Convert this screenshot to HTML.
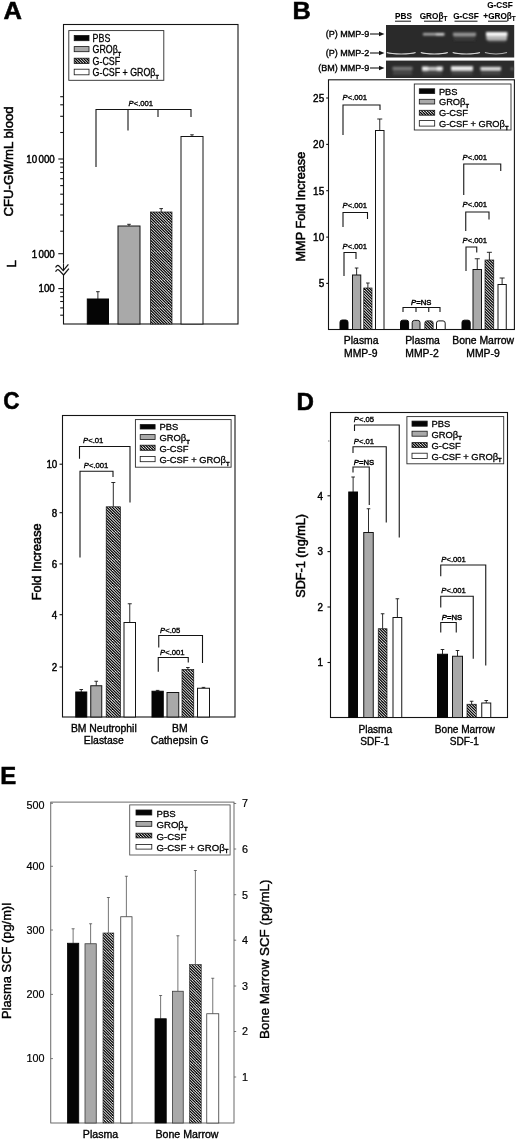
<!DOCTYPE html>
<html lang="en"><head><meta charset="utf-8"><title>Figure</title>
<style>
html,body{margin:0;padding:0;background:#fff;}
body{width:520px;height:1140px;overflow:hidden;}
svg{display:block;font-family:'Liberation Sans', sans-serif;}
</style></head><body>
<svg width="520" height="1140" viewBox="0 0 520 1140">
<defs>
<pattern id="hatch" patternUnits="userSpaceOnUse" width="28.0" height="28.0"><rect width="28.0" height="28.0" fill="#fff"/><g stroke="#000" stroke-width="1.2"><line x1="-28.0" y1="0" x2="0.0" y2="28.0"/><line x1="-25.2" y1="0" x2="2.8" y2="28.0"/><line x1="-22.4" y1="0" x2="5.6" y2="28.0"/><line x1="-19.6" y1="0" x2="8.4" y2="28.0"/><line x1="-16.8" y1="0" x2="11.2" y2="28.0"/><line x1="-14.0" y1="0" x2="14.0" y2="28.0"/><line x1="-11.2" y1="0" x2="16.8" y2="28.0"/><line x1="-8.4" y1="0" x2="19.6" y2="28.0"/><line x1="-5.6" y1="0" x2="22.4" y2="28.0"/><line x1="-2.8" y1="0" x2="25.2" y2="28.0"/><line x1="0.0" y1="0" x2="28.0" y2="28.0"/><line x1="2.8" y1="0" x2="30.8" y2="28.0"/><line x1="5.6" y1="0" x2="33.6" y2="28.0"/><line x1="8.4" y1="0" x2="36.4" y2="28.0"/><line x1="11.2" y1="0" x2="39.2" y2="28.0"/><line x1="14.0" y1="0" x2="42.0" y2="28.0"/><line x1="16.8" y1="0" x2="44.8" y2="28.0"/><line x1="19.6" y1="0" x2="47.6" y2="28.0"/><line x1="22.4" y1="0" x2="50.4" y2="28.0"/><line x1="25.2" y1="0" x2="53.2" y2="28.0"/><line x1="28.0" y1="0" x2="56.0" y2="28.0"/></g></pattern>
<pattern id="hatchs" patternUnits="userSpaceOnUse" width="28.0" height="28.0"><rect width="28.0" height="28.0" fill="#fff"/><g stroke="#000" stroke-width="1.3"><line x1="-28.0" y1="0" x2="0.0" y2="28.0"/><line x1="-25.2" y1="0" x2="2.8" y2="28.0"/><line x1="-22.4" y1="0" x2="5.6" y2="28.0"/><line x1="-19.6" y1="0" x2="8.4" y2="28.0"/><line x1="-16.8" y1="0" x2="11.2" y2="28.0"/><line x1="-14.0" y1="0" x2="14.0" y2="28.0"/><line x1="-11.2" y1="0" x2="16.8" y2="28.0"/><line x1="-8.4" y1="0" x2="19.6" y2="28.0"/><line x1="-5.6" y1="0" x2="22.4" y2="28.0"/><line x1="-2.8" y1="0" x2="25.2" y2="28.0"/><line x1="0.0" y1="0" x2="28.0" y2="28.0"/><line x1="2.8" y1="0" x2="30.8" y2="28.0"/><line x1="5.6" y1="0" x2="33.6" y2="28.0"/><line x1="8.4" y1="0" x2="36.4" y2="28.0"/><line x1="11.2" y1="0" x2="39.2" y2="28.0"/><line x1="14.0" y1="0" x2="42.0" y2="28.0"/><line x1="16.8" y1="0" x2="44.8" y2="28.0"/><line x1="19.6" y1="0" x2="47.6" y2="28.0"/><line x1="22.4" y1="0" x2="50.4" y2="28.0"/><line x1="25.2" y1="0" x2="53.2" y2="28.0"/><line x1="28.0" y1="0" x2="56.0" y2="28.0"/></g></pattern>
<filter id="blur" x="-5%" y="-50%" width="110%" height="200%"><feGaussianBlur stdDeviation="0.8"/></filter>
<filter id="blur2" x="-5%" y="-50%" width="110%" height="200%"><feGaussianBlur stdDeviation="0.45"/></filter>
</defs>
<rect x="0" y="0" width="520" height="1140" fill="#fff"/>
<text x="0" y="0" font-size="23" text-anchor="start" font-weight="bold" fill="#000" stroke="#000" stroke-width="0.5" transform="translate(3.5 19.2) scale(1.11 1)">A</text>
<text x="0" y="0" font-size="23" text-anchor="start" font-weight="bold" fill="#000" stroke="#000" stroke-width="0.5" transform="translate(292.4 19.2) scale(1.1 1)">B</text>
<text x="0" y="0" font-size="23" text-anchor="start" font-weight="bold" fill="#000" stroke="#000" stroke-width="0.5" transform="translate(3.2 409.2) scale(0.98 1)">C</text>
<text x="0" y="0" font-size="23" text-anchor="start" font-weight="bold" fill="#000" stroke="#000" stroke-width="0.5" transform="translate(296.6 409.6) scale(1.05 1)">D</text>
<text x="0" y="0" font-size="23" text-anchor="start" font-weight="bold" fill="#000" stroke="#000" stroke-width="0.5" transform="translate(0.2 784.2) scale(1.04 1)">E</text>
<rect x="63.5" y="24.5" width="174.5" height="299.5" fill="none" stroke="#141414" stroke-width="1.1"/>
<line x1="58.3" y1="159" x2="63.5" y2="159" stroke="#141414" stroke-width="1.1"/>
<line x1="58.3" y1="253.7" x2="63.5" y2="253.7" stroke="#141414" stroke-width="1.1"/>
<line x1="58.3" y1="288.6" x2="63.5" y2="288.6" stroke="#141414" stroke-width="1.1"/>
<line x1="60.2" y1="96.7" x2="63.5" y2="96.7" stroke="#141414" stroke-width="1.1"/>
<line x1="60.2" y1="104.8" x2="63.5" y2="104.8" stroke="#141414" stroke-width="1.1"/>
<line x1="60.2" y1="116.3" x2="63.5" y2="116.3" stroke="#141414" stroke-width="1.1"/>
<line x1="60.2" y1="132.5" x2="63.5" y2="132.5" stroke="#141414" stroke-width="1.1"/>
<line x1="60.2" y1="162.8" x2="63.5" y2="162.8" stroke="#141414" stroke-width="1.1"/>
<line x1="60.2" y1="167.1" x2="63.5" y2="167.1" stroke="#141414" stroke-width="1.1"/>
<line x1="60.2" y1="172.5" x2="63.5" y2="172.5" stroke="#141414" stroke-width="1.1"/>
<line x1="60.2" y1="178.7" x2="63.5" y2="178.7" stroke="#141414" stroke-width="1.1"/>
<line x1="60.2" y1="185.6" x2="63.5" y2="185.6" stroke="#141414" stroke-width="1.1"/>
<line x1="60.2" y1="194.2" x2="63.5" y2="194.2" stroke="#141414" stroke-width="1.1"/>
<line x1="60.2" y1="204.2" x2="63.5" y2="204.2" stroke="#141414" stroke-width="1.1"/>
<line x1="60.2" y1="215" x2="63.5" y2="215" stroke="#141414" stroke-width="1.1"/>
<line x1="60.2" y1="231.2" x2="63.5" y2="231.2" stroke="#141414" stroke-width="1.1"/>
<line x1="60.2" y1="292.3" x2="63.5" y2="292.3" stroke="#141414" stroke-width="1.1"/>
<line x1="60.2" y1="296.7" x2="63.5" y2="296.7" stroke="#141414" stroke-width="1.1"/>
<line x1="60.2" y1="301.5" x2="63.5" y2="301.5" stroke="#141414" stroke-width="1.1"/>
<line x1="60.2" y1="307.9" x2="63.5" y2="307.9" stroke="#141414" stroke-width="1.1"/>
<line x1="60.2" y1="315.2" x2="63.5" y2="315.2" stroke="#141414" stroke-width="1.1"/>
<text x="0" y="0" font-size="10.6" text-anchor="end" font-weight="normal" fill="#000" stroke="#000" stroke-width="0.45" transform="translate(54.8 162.8) scale(0.92 1)">10<tspan dx="1.6">000</tspan></text>
<text x="0" y="0" font-size="10.6" text-anchor="end" font-weight="normal" fill="#000" stroke="#000" stroke-width="0.45" transform="translate(54.8 257.5) scale(0.92 1)">1<tspan dx="1.6">000</tspan></text>
<text x="0" y="0" font-size="10.6" text-anchor="end" font-weight="normal" fill="#000" stroke="#000" stroke-width="0.45" transform="translate(54.8 292.4) scale(0.92 1)">100</text>
<rect x="61" y="263.5" width="5" height="11" fill="#fff"/>
<path d="M55.6,267.6 Q57.2,264.2 59.2,266.2 L63.2,270.6 L68.4,264.4" fill="none" stroke="#141414" stroke-width="1.25"/>
<path d="M55.6,271.8 Q57.2,268.4 59.2,270.4 L63.6,275 L68.9,268.6" fill="none" stroke="#141414" stroke-width="1.25"/>
<line x1="63.5" y1="263.5" x2="63.5" y2="270.4" stroke="#141414" stroke-width="1.1"/>
<text x="12.8" y="216.5" font-size="13.2" text-anchor="start" font-weight="normal" fill="#000" stroke="#000" stroke-width="0.5" transform="rotate(-90 12.8 216.5)">CFU-GM/mL blood</text>
<text x="15.6" y="267.6" font-size="13.2" text-anchor="start" font-weight="normal" fill="#000" stroke="#000" stroke-width="0.5" transform="rotate(-90 15.6 267.6)">L</text>
<rect x="68.8" y="30.6" width="95.0" height="49.7" fill="#fff" stroke="#2a2a2a" stroke-width="0.9"/>
<rect x="74.2" y="35.5" width="14.8" height="5.2" fill="#050505" stroke="#141414" stroke-width="0.8"/>
<text x="0" y="0" font-size="10" text-anchor="start" font-weight="normal" fill="#000" stroke="#000" stroke-width="0.3" transform="translate(92.6 41.78) scale(0.885 1)">PBS</text>
<rect x="74.2" y="46.6" width="14.8" height="5.1" fill="#a9a9a9" stroke="#141414" stroke-width="0.8"/>
<text x="0" y="0" font-size="10" text-anchor="start" font-weight="normal" fill="#000" stroke="#000" stroke-width="0.3" transform="translate(92.6 53.38) scale(0.885 1)">GRO&#946;<tspan font-size="6.2" dy="2.8" font-weight="bold">T</tspan></text>
<rect x="74.2" y="58.2" width="14.8" height="5.2" fill="url(#hatchs)" stroke="#141414" stroke-width="0.8"/>
<text x="0" y="0" font-size="10" text-anchor="start" font-weight="normal" fill="#000" stroke="#000" stroke-width="0.3" transform="translate(92.6 65.18) scale(0.885 1)">G-CSF</text>
<rect x="74.2" y="69.2" width="14.8" height="5.6" fill="#ffffff" stroke="#141414" stroke-width="0.8"/>
<text x="0" y="0" font-size="10" text-anchor="start" font-weight="normal" fill="#000" stroke="#000" stroke-width="0.3" transform="translate(92.6 76.38) scale(0.885 1)">G-CSF + GRO&#946;<tspan font-size="6.2" dy="2.8" font-weight="bold">T</tspan></text>
<line x1="97.9" y1="299" x2="97.9" y2="291.7" stroke="#141414" stroke-width="0.9"/>
<line x1="96.10000000000001" y1="291.7" x2="99.7" y2="291.7" stroke="#141414" stroke-width="0.9"/>
<rect x="87.3" y="299" width="21.2" height="25" fill="#050505" stroke="#050505" stroke-width="1.0"/>
<line x1="129.0" y1="226" x2="129.0" y2="224.3" stroke="#141414" stroke-width="0.9"/>
<line x1="127.2" y1="224.3" x2="130.8" y2="224.3" stroke="#141414" stroke-width="0.9"/>
<rect x="118" y="226" width="22" height="98" fill="#a9a9a9" stroke="#141414" stroke-width="1.0"/>
<line x1="161.2" y1="212" x2="161.2" y2="208.6" stroke="#141414" stroke-width="0.9"/>
<line x1="159.39999999999998" y1="208.6" x2="163.0" y2="208.6" stroke="#141414" stroke-width="0.9"/>
<rect x="150.4" y="212" width="21.6" height="112" fill="url(#hatch)" stroke="#141414" stroke-width="0.7"/>
<line x1="192.0" y1="136.5" x2="192.0" y2="134.8" stroke="#141414" stroke-width="0.9"/>
<line x1="190.2" y1="134.8" x2="193.8" y2="134.8" stroke="#141414" stroke-width="0.9"/>
<rect x="181" y="136.5" width="22" height="187.5" fill="#ffffff" stroke="#141414" stroke-width="1.0"/>
<polyline points="96,167 96,109.5 191,109.5 191,117" fill="none" stroke="#141414" stroke-width="1.1"/>
<line x1="128" y1="109.5" x2="128" y2="130.5" stroke="#141414" stroke-width="1.1"/>
<line x1="158" y1="109.5" x2="158" y2="117" stroke="#141414" stroke-width="1.1"/>
<text x="128.5" y="106" font-size="7.7" text-anchor="start" font-weight="normal" fill="#000" stroke="#000" stroke-width="0.35"><tspan font-style="italic">P</tspan>&lt;.001</text>
<text x="369.3" y="37.2" font-size="9" text-anchor="end" font-weight="normal" fill="#000" stroke="#000" stroke-width="0.35">(P) MMP-9</text>
<text x="369.3" y="56.2" font-size="9" text-anchor="end" font-weight="normal" fill="#000" stroke="#000" stroke-width="0.35">(P) MMP-2</text>
<text x="369.3" y="71.2" font-size="9" text-anchor="end" font-weight="normal" fill="#000" stroke="#000" stroke-width="0.35">(BM) MMP-9</text>
<line x1="370" y1="34" x2="380" y2="34" stroke="#141414" stroke-width="1.1"/>
<path d="M384.5,34 L379,31.7 L379,36.3 Z" fill="#141414"/>
<line x1="370" y1="53" x2="380" y2="53" stroke="#141414" stroke-width="1.1"/>
<path d="M384.5,53 L379,50.7 L379,55.3 Z" fill="#141414"/>
<line x1="370" y1="68" x2="380" y2="68" stroke="#141414" stroke-width="1.1"/>
<path d="M384.5,68 L379,65.7 L379,70.3 Z" fill="#141414"/>
<text x="403.5" y="18.8" font-size="8.2" text-anchor="middle" font-weight="bold" fill="#000" stroke="#000" stroke-width="0.1">PBS</text>
<text x="433.5" y="18.8" font-size="8.2" text-anchor="middle" font-weight="bold" fill="#000" stroke="#000" stroke-width="0.1">GRO&#946;<tspan font-size="6.3" dy="2" font-weight="bold">T</tspan></text>
<text x="466" y="18.8" font-size="8.2" text-anchor="middle" font-weight="bold" fill="#000" stroke="#000" stroke-width="0.1">G-CSF</text>
<text x="500" y="7.8" font-size="8.2" text-anchor="middle" font-weight="bold" fill="#000" stroke="#000" stroke-width="0.1">G-CSF</text>
<text x="499.5" y="18.8" font-size="8.2" text-anchor="middle" font-weight="bold" fill="#000" stroke="#000" stroke-width="0.1">+GRO&#946;<tspan font-size="6.3" dy="2" font-weight="bold">T</tspan></text>
<line x1="395" y1="21.2" x2="411" y2="21.2" stroke="#141414" stroke-width="1.0"/>
<line x1="424" y1="21.2" x2="442.5" y2="21.2" stroke="#141414" stroke-width="1.0"/>
<line x1="454.5" y1="21.2" x2="477.5" y2="21.2" stroke="#141414" stroke-width="1.0"/>
<line x1="488" y1="21.2" x2="507.5" y2="21.2" stroke="#141414" stroke-width="1.0"/>
<rect x="386" y="25" width="128.2" height="32.5" fill="#2a2a2a"/>
<rect x="386" y="60.6" width="128.2" height="17.4" fill="#2c2c2c"/>
<g filter="url(#blur)">
<rect x="423" y="33.1" width="21.5" height="2.3" fill="#b4b4b4"/>
<rect x="436" y="33.1" width="8" height="2.3" fill="#dcdcdc"/>
<rect x="453" y="32.7" width="23" height="3.2" fill="#9a9a9a"/>
<rect x="454" y="36" width="21" height="4.5" fill="#3c3c3c"/>
<rect x="486" y="32" width="21.4" height="4.4" fill="#f6f6f6"/>
<rect x="486.4" y="36.2" width="20.6" height="3.8" fill="#b8b8b8"/>
<rect x="488" y="40" width="18" height="2" fill="#555"/>
<rect x="393" y="70" width="19" height="5" fill="#444"/>
<rect x="422.5" y="70" width="19.5" height="5" fill="#444"/>
<rect x="451.5" y="70" width="21.0" height="5" fill="#444"/>
<rect x="481" y="70" width="19.5" height="5" fill="#444"/>
<rect x="392.5" y="66.8" width="20" height="3" fill="#7c7c7c"/>
<rect x="422" y="66.8" width="20.6" height="3.4" fill="#c8c8c8"/>
<rect x="422" y="66.6" width="6" height="3.8" fill="#f4f4f4"/><rect x="437" y="66.6" width="5.6" height="3.8" fill="#f4f4f4"/>
<rect x="451" y="66.2" width="22" height="4.2" fill="#f0f0f0"/>
<rect x="480.4" y="66.9" width="20.6" height="3.3" fill="#e2e2e2"/>
<rect x="510.8" y="67.5" width="2.4" height="2.6" fill="#6a6a6a"/>
</g>
<g filter="url(#blur2)">
<path d="M386.8,52.5 Q390.8,53.9 401.20000000000005,54 Q411.6,53.9 415.6,52.5" fill="none" stroke="#d6d6d6" stroke-width="1.15"/>
<path d="M420.8,52.5 Q424.8,53.9 434.3,54 Q443.8,53.9 447.8,52.5" fill="none" stroke="#dedede" stroke-width="1.15"/>
<path d="M452.7,52.5 Q456.7,53.9 466.35,54 Q476,53.9 480,52.5" fill="none" stroke="#d6d6d6" stroke-width="1.15"/>
<path d="M484.9,52.5 Q488.9,53.9 495.95,54 Q503,53.9 507,52.5" fill="none" stroke="#b0b0b0" stroke-width="1.15"/>
</g>
<rect x="328.5" y="79.8" width="185.9" height="249.7" fill="none" stroke="#141414" stroke-width="1.1"/>
<line x1="326.2" y1="98" x2="328.5" y2="98" stroke="#141414" stroke-width="1.1"/>
<text x="0" y="0" font-size="10.7" text-anchor="end" font-weight="normal" fill="#000" stroke="#000" stroke-width="0.45" transform="translate(324.2 101.8) scale(0.93 1)">25</text>
<line x1="326.2" y1="144.4" x2="328.5" y2="144.4" stroke="#141414" stroke-width="1.1"/>
<text x="0" y="0" font-size="10.7" text-anchor="end" font-weight="normal" fill="#000" stroke="#000" stroke-width="0.45" transform="translate(324.2 148.20000000000002) scale(0.93 1)">20</text>
<line x1="326.2" y1="190.7" x2="328.5" y2="190.7" stroke="#141414" stroke-width="1.1"/>
<text x="0" y="0" font-size="10.7" text-anchor="end" font-weight="normal" fill="#000" stroke="#000" stroke-width="0.45" transform="translate(324.2 194.5) scale(0.93 1)">15</text>
<line x1="326.2" y1="237.1" x2="328.5" y2="237.1" stroke="#141414" stroke-width="1.1"/>
<text x="0" y="0" font-size="10.7" text-anchor="end" font-weight="normal" fill="#000" stroke="#000" stroke-width="0.45" transform="translate(324.2 240.9) scale(0.93 1)">10</text>
<line x1="326.2" y1="283.4" x2="328.5" y2="283.4" stroke="#141414" stroke-width="1.1"/>
<text x="0" y="0" font-size="10.7" text-anchor="end" font-weight="normal" fill="#000" stroke="#000" stroke-width="0.45" transform="translate(324.2 287.2) scale(0.93 1)">5</text>
<text x="304.9" y="261.5" font-size="12.7" text-anchor="start" font-weight="normal" fill="#000" stroke="#000" stroke-width="0.5" transform="rotate(-90 304.9 261.5)">MMP Fold Increase</text>
<rect x="414.3" y="84" width="96.7" height="46" fill="#fff" stroke="#2a2a2a" stroke-width="0.9"/>
<rect x="419.3" y="88.8" width="15.4" height="4.7" fill="#050505" stroke="#141414" stroke-width="0.8"/>
<text x="0" y="0" font-size="9.3" text-anchor="start" font-weight="normal" fill="#000" stroke="#000" stroke-width="0.3" transform="translate(438.9 94.53) scale(1.0 1)">PBS</text>
<rect x="419.3" y="99.3" width="15.4" height="4.7" fill="#a9a9a9" stroke="#141414" stroke-width="0.8"/>
<text x="0" y="0" font-size="9.3" text-anchor="start" font-weight="normal" fill="#000" stroke="#000" stroke-width="0.3" transform="translate(438.9 105.13) scale(1.0 1)">GRO&#946;<tspan font-size="5.77" dy="2.6" font-weight="bold">T</tspan></text>
<rect x="419.3" y="110.3" width="15.4" height="4.9" fill="url(#hatchs)" stroke="#141414" stroke-width="0.8"/>
<text x="0" y="0" font-size="9.3" text-anchor="start" font-weight="normal" fill="#000" stroke="#000" stroke-width="0.3" transform="translate(438.9 116.13) scale(1.0 1)">G-CSF</text>
<rect x="419.3" y="120.6" width="15.4" height="5.5" fill="#ffffff" stroke="#141414" stroke-width="0.8"/>
<text x="0" y="0" font-size="9.3" text-anchor="start" font-weight="normal" fill="#000" stroke="#000" stroke-width="0.3" transform="translate(438.9 127.13) scale(1.0 1)">G-CSF + GRO&#946;<tspan font-size="5.77" dy="2.6" font-weight="bold">T</tspan></text>
<path d="M340,329.5 L340,322.2 Q340,320 342.2,320 L345.8,320 Q348,320 348,322.2 L348,329.5 Z" fill="#050505" stroke="#050505" stroke-width="1.0"/>
<line x1="356.62" y1="275" x2="356.62" y2="268" stroke="#141414" stroke-width="0.9"/>
<line x1="354.82" y1="268" x2="358.42" y2="268" stroke="#141414" stroke-width="0.9"/>
<rect x="352.5" y="275" width="8.25" height="54.5" fill="#a9a9a9" stroke="#141414" stroke-width="1.0"/>
<line x1="367.88" y1="288" x2="367.88" y2="283" stroke="#141414" stroke-width="0.9"/>
<line x1="366.08" y1="283" x2="369.68" y2="283" stroke="#141414" stroke-width="0.9"/>
<rect x="363.75" y="288" width="8.25" height="41.5" fill="url(#hatch)" stroke="#141414" stroke-width="0.7"/>
<line x1="379.75" y1="130.5" x2="379.75" y2="119" stroke="#141414" stroke-width="0.9"/>
<line x1="377.25" y1="119" x2="382.25" y2="119" stroke="#141414" stroke-width="0.9"/>
<rect x="375.5" y="130.5" width="8.5" height="199.0" fill="#ffffff" stroke="#141414" stroke-width="1.0"/>
<path d="M400.5,329.5 L400.5,322.4 Q400.5,320.2 402.7,320.2 L406.40000000000003,320.2 Q408.6,320.2 408.6,322.4 L408.6,329.5 Z" fill="#050505" stroke="#050505" stroke-width="1.0"/>
<path d="M412.2,329.5 L412.2,322.59999999999997 Q412.2,320.4 414.4,320.4 L417.8,320.4 Q420,320.4 420,322.59999999999997 L420,329.5 Z" fill="#a9a9a9" stroke="#141414" stroke-width="1.0"/>
<path d="M424.8,329.5 L424.8,323.0 Q424.8,320.8 427.0,320.8 L431.0,320.8 Q433.2,320.8 433.2,323.0 L433.2,329.5 Z" fill="url(#hatch)" stroke="#141414" stroke-width="0.7"/>
<path d="M436.5,329.5 L436.5,323.09999999999997 Q436.5,320.9 438.7,320.9 L443.0,320.9 Q445.2,320.9 445.2,323.09999999999997 L445.2,329.5 Z" fill="#ffffff" stroke="#141414" stroke-width="1.0"/>
<path d="M462,329.5 L462,322.4 Q462,320.2 464.2,320.2 L468.0,320.2 Q470.2,320.2 470.2,322.4 L470.2,329.5 Z" fill="#050505" stroke="#050505" stroke-width="1.0"/>
<line x1="477.25" y1="269.5" x2="477.25" y2="258.75" stroke="#141414" stroke-width="0.9"/>
<line x1="474.75" y1="258.75" x2="479.75" y2="258.75" stroke="#141414" stroke-width="0.9"/>
<rect x="473" y="269.5" width="8.5" height="60.0" fill="#a9a9a9" stroke="#141414" stroke-width="1.0"/>
<line x1="489.38" y1="260" x2="489.38" y2="252.3" stroke="#141414" stroke-width="0.9"/>
<line x1="486.88" y1="252.3" x2="491.88" y2="252.3" stroke="#141414" stroke-width="0.9"/>
<rect x="485" y="260" width="8.75" height="69.5" fill="url(#hatch)" stroke="#141414" stroke-width="0.7"/>
<line x1="502.12" y1="284.5" x2="502.12" y2="278" stroke="#141414" stroke-width="0.9"/>
<line x1="499.62" y1="278" x2="504.62" y2="278" stroke="#141414" stroke-width="0.9"/>
<rect x="498" y="284.5" width="8.25" height="45.0" fill="#ffffff" stroke="#141414" stroke-width="1.0"/>
<polyline points="343,135 343,105 380,105 380,110" fill="none" stroke="#141414" stroke-width="1.1"/>
<text x="342.5" y="100" font-size="7.7" text-anchor="start" font-weight="normal" fill="#000" stroke="#000" stroke-width="0.35"><tspan font-style="italic">P</tspan>&lt;.001</text>
<polyline points="343,227 343,212.5 367.5,212.5 367.5,219" fill="none" stroke="#141414" stroke-width="1.1"/>
<text x="342.5" y="208" font-size="7.7" text-anchor="start" font-weight="normal" fill="#000" stroke="#000" stroke-width="0.35"><tspan font-style="italic">P</tspan>&lt;.001</text>
<polyline points="344,276 344,252.5 356,252.5 356,259" fill="none" stroke="#141414" stroke-width="1.1"/>
<text x="342.5" y="249" font-size="7.7" text-anchor="start" font-weight="normal" fill="#000" stroke="#000" stroke-width="0.35"><tspan font-style="italic">P</tspan>&lt;.001</text>
<polyline points="403,312 403,307.5 440,307.5 440,312" fill="none" stroke="#141414" stroke-width="1.1"/>
<line x1="416" y1="307.5" x2="416" y2="312" stroke="#141414" stroke-width="1.1"/>
<line x1="428.75" y1="307.5" x2="428.75" y2="312" stroke="#141414" stroke-width="1.1"/>
<text x="411" y="304.5" font-size="7.7" text-anchor="start" font-weight="normal" fill="#000" stroke="#000" stroke-width="0.45"><tspan font-style="italic">P</tspan>=NS</text>
<polyline points="463.75,195 463.75,164 500.75,164 500.75,171" fill="none" stroke="#141414" stroke-width="1.1"/>
<text x="462.5" y="160" font-size="7.7" text-anchor="start" font-weight="normal" fill="#000" stroke="#000" stroke-width="0.35"><tspan font-style="italic">P</tspan>&lt;.001</text>
<polyline points="465.75,231 465.75,212 489,212 489,219.5" fill="none" stroke="#141414" stroke-width="1.1"/>
<text x="462.5" y="207" font-size="7.7" text-anchor="start" font-weight="normal" fill="#000" stroke="#000" stroke-width="0.35"><tspan font-style="italic">P</tspan>&lt;.001</text>
<polyline points="466,271 466,247 476.75,247 476.75,252.5" fill="none" stroke="#141414" stroke-width="1.1"/>
<text x="462.5" y="243" font-size="7.7" text-anchor="start" font-weight="normal" fill="#000" stroke="#000" stroke-width="0.35"><tspan font-style="italic">P</tspan>&lt;.001</text>
<text x="361.2" y="343.9" font-size="10.4" text-anchor="middle" font-weight="normal" fill="#000" stroke="#000" stroke-width="0.35">Plasma</text>
<text x="360.8" y="356.6" font-size="10.4" text-anchor="middle" font-weight="normal" fill="#000" stroke="#000" stroke-width="0.35">MMP-9</text>
<text x="422.5" y="343.9" font-size="10.4" text-anchor="middle" font-weight="normal" fill="#000" stroke="#000" stroke-width="0.35">Plasma</text>
<text x="422" y="356.6" font-size="10.4" text-anchor="middle" font-weight="normal" fill="#000" stroke="#000" stroke-width="0.35">MMP-2</text>
<text x="483.2" y="343.9" font-size="10.4" text-anchor="middle" font-weight="normal" fill="#000" stroke="#000" stroke-width="0.35">Bone Marrow</text>
<text x="483" y="356.6" font-size="10.4" text-anchor="middle" font-weight="normal" fill="#000" stroke="#000" stroke-width="0.35">MMP-9</text>
<rect x="62.5" y="415.5" width="172.5" height="301.5" fill="none" stroke="#141414" stroke-width="1.1"/>
<line x1="59.5" y1="464.2" x2="62.5" y2="464.2" stroke="#141414" stroke-width="1.1"/>
<text x="0" y="0" font-size="10.9" text-anchor="end" font-weight="normal" fill="#000" stroke="#000" stroke-width="0.45" transform="translate(57.3 468.09999999999997) scale(0.9 1)">10</text>
<line x1="59.5" y1="512.7" x2="62.5" y2="512.7" stroke="#141414" stroke-width="1.1"/>
<text x="0" y="0" font-size="10.9" text-anchor="end" font-weight="normal" fill="#000" stroke="#000" stroke-width="0.45" transform="translate(57.3 516.6) scale(0.9 1)">8</text>
<line x1="59.5" y1="563.9" x2="62.5" y2="563.9" stroke="#141414" stroke-width="1.1"/>
<text x="0" y="0" font-size="10.9" text-anchor="end" font-weight="normal" fill="#000" stroke="#000" stroke-width="0.45" transform="translate(57.3 567.8) scale(0.9 1)">6</text>
<line x1="59.5" y1="614.7" x2="62.5" y2="614.7" stroke="#141414" stroke-width="1.1"/>
<text x="0" y="0" font-size="10.9" text-anchor="end" font-weight="normal" fill="#000" stroke="#000" stroke-width="0.45" transform="translate(57.3 618.6) scale(0.9 1)">4</text>
<line x1="59.5" y1="667" x2="62.5" y2="667" stroke="#141414" stroke-width="1.1"/>
<text x="0" y="0" font-size="10.9" text-anchor="end" font-weight="normal" fill="#000" stroke="#000" stroke-width="0.45" transform="translate(57.3 670.9) scale(0.9 1)">2</text>
<text x="40.6" y="600.3" font-size="12.7" text-anchor="start" font-weight="normal" fill="#000" stroke="#000" stroke-width="0.5" transform="rotate(-90 40.6 600.3)">Fold Increase</text>
<rect x="135.4" y="419.6" width="95.7" height="47.6" fill="#fff" stroke="#2a2a2a" stroke-width="0.9"/>
<rect x="140.2" y="424.6" width="14.9" height="4.4" fill="#050505" stroke="#141414" stroke-width="0.8"/>
<text x="0" y="0" font-size="9.4" text-anchor="start" font-weight="normal" fill="#000" stroke="#000" stroke-width="0.3" transform="translate(159.4 430.17) scale(1.0 1)">PBS</text>
<rect x="140.2" y="434.6" width="14.9" height="4.9" fill="#a9a9a9" stroke="#141414" stroke-width="0.8"/>
<text x="0" y="0" font-size="9.4" text-anchor="start" font-weight="normal" fill="#000" stroke="#000" stroke-width="0.3" transform="translate(159.4 441.17) scale(1.0 1)">GRO&#946;<tspan font-size="5.83" dy="2.63" font-weight="bold">T</tspan></text>
<rect x="140.2" y="445.2" width="14.9" height="5.1" fill="url(#hatchs)" stroke="#141414" stroke-width="0.8"/>
<text x="0" y="0" font-size="9.4" text-anchor="start" font-weight="normal" fill="#000" stroke="#000" stroke-width="0.3" transform="translate(159.4 451.77) scale(1.0 1)">G-CSF</text>
<rect x="140.2" y="456.4" width="14.9" height="5.3" fill="#ffffff" stroke="#141414" stroke-width="0.8"/>
<text x="0" y="0" font-size="9.4" text-anchor="start" font-weight="normal" fill="#000" stroke="#000" stroke-width="0.3" transform="translate(159.4 462.97) scale(1.0 1)">G-CSF + GRO&#946;<tspan font-size="5.83" dy="2.63" font-weight="bold">T</tspan></text>
<line x1="81.25" y1="692" x2="81.25" y2="689.5" stroke="#141414" stroke-width="0.9"/>
<line x1="79.45" y1="689.5" x2="83.05" y2="689.5" stroke="#141414" stroke-width="0.9"/>
<rect x="75.75" y="692" width="11.0" height="25" fill="#050505" stroke="#050505" stroke-width="1.0"/>
<line x1="96.25" y1="685.75" x2="96.25" y2="681.25" stroke="#141414" stroke-width="0.9"/>
<line x1="94.45" y1="681.25" x2="98.05" y2="681.25" stroke="#141414" stroke-width="0.9"/>
<rect x="90.75" y="685.75" width="11.0" height="31.25" fill="#a9a9a9" stroke="#141414" stroke-width="1.0"/>
<line x1="113.3" y1="506.8" x2="113.3" y2="482.5" stroke="#141414" stroke-width="0.9"/>
<line x1="111.3" y1="482.5" x2="115.3" y2="482.5" stroke="#141414" stroke-width="0.9"/>
<rect x="106.2" y="506.8" width="14.2" height="210.2" fill="url(#hatch)" stroke="#141414" stroke-width="0.7"/>
<line x1="129.75" y1="622.5" x2="129.75" y2="603.75" stroke="#141414" stroke-width="0.9"/>
<line x1="127.75" y1="603.75" x2="131.75" y2="603.75" stroke="#141414" stroke-width="0.9"/>
<rect x="124" y="622.5" width="11.5" height="94.5" fill="#ffffff" stroke="#141414" stroke-width="1.0"/>
<line x1="157.62" y1="691.25" x2="157.62" y2="690.4" stroke="#141414" stroke-width="0.9"/>
<line x1="155.82" y1="690.4" x2="159.42000000000002" y2="690.4" stroke="#141414" stroke-width="0.9"/>
<rect x="152" y="691.25" width="11.25" height="25.75" fill="#050505" stroke="#050505" stroke-width="1.0"/>
<rect x="167" y="692.5" width="11.75" height="24.5" fill="#a9a9a9" stroke="#141414" stroke-width="1.0"/>
<line x1="187.88" y1="669.5" x2="187.88" y2="667.5" stroke="#141414" stroke-width="0.9"/>
<line x1="186.07999999999998" y1="667.5" x2="189.68" y2="667.5" stroke="#141414" stroke-width="0.9"/>
<rect x="182" y="669.5" width="11.75" height="47.5" fill="url(#hatch)" stroke="#141414" stroke-width="0.7"/>
<line x1="203.5" y1="688.25" x2="203.5" y2="687.4" stroke="#141414" stroke-width="0.9"/>
<line x1="201.7" y1="687.4" x2="205.3" y2="687.4" stroke="#141414" stroke-width="0.9"/>
<rect x="197.5" y="688.25" width="12.0" height="28.75" fill="#ffffff" stroke="#141414" stroke-width="1.0"/>
<polyline points="79.5,458.75 79.5,446.5 130,446.5 130,502.5" fill="none" stroke="#141414" stroke-width="1.1"/>
<text x="83" y="443.3" font-size="7.7" text-anchor="start" font-weight="normal" fill="#000" stroke="#000" stroke-width="0.35"><tspan font-style="italic">P</tspan>&lt;.01</text>
<polyline points="80,557.5 80,471.25 113,471.25 113,477" fill="none" stroke="#141414" stroke-width="1.1"/>
<text x="83.75" y="467.5" font-size="7.7" text-anchor="start" font-weight="normal" fill="#000" stroke="#000" stroke-width="0.35"><tspan font-style="italic">P</tspan>&lt;.001</text>
<polyline points="158.75,647.5 158.75,635.5 202.5,635.5 202.5,663" fill="none" stroke="#141414" stroke-width="1.1"/>
<text x="160" y="632.5" font-size="7.7" text-anchor="start" font-weight="normal" fill="#000" stroke="#000" stroke-width="0.35"><tspan font-style="italic">P</tspan>&lt;.05</text>
<polyline points="158.25,671.75 158.25,657.5 188.25,657.5 188.25,662.5" fill="none" stroke="#141414" stroke-width="1.1"/>
<text x="160" y="654.5" font-size="7.7" text-anchor="start" font-weight="normal" fill="#000" stroke="#000" stroke-width="0.35"><tspan font-style="italic">P</tspan>&lt;.001</text>
<text x="103.8" y="731.8" font-size="10.4" text-anchor="middle" font-weight="normal" fill="#000" stroke="#000" stroke-width="0.35">BM Neutrophil</text>
<text x="103.8" y="744.3" font-size="10.4" text-anchor="middle" font-weight="normal" fill="#000" stroke="#000" stroke-width="0.35">Elastase</text>
<text x="179.8" y="731.8" font-size="10.4" text-anchor="middle" font-weight="normal" fill="#000" stroke="#000" stroke-width="0.35">BM</text>
<text x="179.6" y="744.3" font-size="10.4" text-anchor="middle" font-weight="normal" fill="#000" stroke="#000" stroke-width="0.35">Cathepsin G</text>
<rect x="330.5" y="412.5" width="177.0" height="305.0" fill="none" stroke="#141414" stroke-width="1.1"/>
<line x1="327.5" y1="495.8" x2="330.5" y2="495.8" stroke="#141414" stroke-width="1.1"/>
<text x="0" y="0" font-size="10.7" text-anchor="end" font-weight="normal" fill="#000" stroke="#000" stroke-width="0.45" transform="translate(323 499.6) scale(0.92 1)">4</text>
<line x1="327.5" y1="551.6" x2="330.5" y2="551.6" stroke="#141414" stroke-width="1.1"/>
<text x="0" y="0" font-size="10.7" text-anchor="end" font-weight="normal" fill="#000" stroke="#000" stroke-width="0.45" transform="translate(323 555.4) scale(0.92 1)">3</text>
<line x1="327.5" y1="607" x2="330.5" y2="607" stroke="#141414" stroke-width="1.1"/>
<text x="0" y="0" font-size="10.7" text-anchor="end" font-weight="normal" fill="#000" stroke="#000" stroke-width="0.45" transform="translate(323 610.8) scale(0.92 1)">2</text>
<line x1="327.5" y1="662.5" x2="330.5" y2="662.5" stroke="#141414" stroke-width="1.1"/>
<text x="0" y="0" font-size="10.7" text-anchor="end" font-weight="normal" fill="#000" stroke="#000" stroke-width="0.45" transform="translate(323 666.3) scale(0.92 1)">1</text>
<line x1="328.2" y1="441" x2="329.4" y2="441" stroke="#555" stroke-width="1"/>
<text x="305.4" y="597.8" font-size="12.7" text-anchor="start" font-weight="normal" fill="#000" stroke="#000" stroke-width="0.5" transform="rotate(-90 305.4 597.8)">SDF-1 (ng/mL)</text>
<line x1="353.12" y1="492" x2="353.12" y2="477" stroke="#141414" stroke-width="0.9"/>
<line x1="351.32" y1="477" x2="354.92" y2="477" stroke="#141414" stroke-width="0.9"/>
<rect x="348.75" y="492" width="8.75" height="225.5" fill="#050505" stroke="#050505" stroke-width="1.0"/>
<line x1="368.5" y1="532.5" x2="368.5" y2="508.75" stroke="#141414" stroke-width="0.9"/>
<line x1="366.7" y1="508.75" x2="370.3" y2="508.75" stroke="#141414" stroke-width="0.9"/>
<rect x="363.75" y="532.5" width="9.5" height="185.0" fill="#a9a9a9" stroke="#141414" stroke-width="1.0"/>
<line x1="382.62" y1="628.75" x2="382.62" y2="613.75" stroke="#141414" stroke-width="0.9"/>
<line x1="380.82" y1="613.75" x2="384.42" y2="613.75" stroke="#141414" stroke-width="0.9"/>
<rect x="378.25" y="628.75" width="8.75" height="88.75" fill="url(#hatch)" stroke="#141414" stroke-width="0.7"/>
<line x1="397.38" y1="617.5" x2="397.38" y2="598.75" stroke="#141414" stroke-width="0.9"/>
<line x1="395.58" y1="598.75" x2="399.18" y2="598.75" stroke="#141414" stroke-width="0.9"/>
<rect x="393" y="617.5" width="8.75" height="100.0" fill="#ffffff" stroke="#141414" stroke-width="1.0"/>
<line x1="442.5" y1="654.25" x2="442.5" y2="649.5" stroke="#141414" stroke-width="0.9"/>
<line x1="440.7" y1="649.5" x2="444.3" y2="649.5" stroke="#141414" stroke-width="0.9"/>
<rect x="437.5" y="654.25" width="10.0" height="63.25" fill="#050505" stroke="#050505" stroke-width="1.0"/>
<line x1="457.5" y1="656.25" x2="457.5" y2="650.5" stroke="#141414" stroke-width="0.9"/>
<line x1="455.7" y1="650.5" x2="459.3" y2="650.5" stroke="#141414" stroke-width="0.9"/>
<rect x="452.5" y="656.25" width="10.0" height="61.25" fill="#a9a9a9" stroke="#141414" stroke-width="1.0"/>
<line x1="471.62" y1="704.25" x2="471.62" y2="701.25" stroke="#141414" stroke-width="0.9"/>
<line x1="469.82" y1="701.25" x2="473.42" y2="701.25" stroke="#141414" stroke-width="0.9"/>
<rect x="467" y="704.25" width="9.25" height="13.25" fill="url(#hatch)" stroke="#141414" stroke-width="0.7"/>
<line x1="486.25" y1="703" x2="486.25" y2="700.5" stroke="#141414" stroke-width="0.9"/>
<line x1="484.45" y1="700.5" x2="488.05" y2="700.5" stroke="#141414" stroke-width="0.9"/>
<rect x="481.75" y="703" width="9.0" height="14.5" fill="#ffffff" stroke="#141414" stroke-width="1.0"/>
<polyline points="354.5,431 354.5,425 399.25,425 399.25,537.5" fill="none" stroke="#141414" stroke-width="1.1"/>
<text x="353.75" y="422" font-size="7.7" text-anchor="start" font-weight="normal" fill="#000" stroke="#000" stroke-width="0.35"><tspan font-style="italic">P</tspan>&lt;.05</text>
<polyline points="353,453 353,446.75 386.25,446.75 386.25,522.5" fill="none" stroke="#141414" stroke-width="1.1"/>
<text x="353.75" y="443.75" font-size="7.7" text-anchor="start" font-weight="normal" fill="#000" stroke="#000" stroke-width="0.35"><tspan font-style="italic">P</tspan>&lt;.01</text>
<polyline points="353,472.5 353,467 369.25,467 369.25,505" fill="none" stroke="#141414" stroke-width="1.1"/>
<text x="353.75" y="464.5" font-size="7.7" text-anchor="start" font-weight="normal" fill="#000" stroke="#000" stroke-width="0.45"><tspan font-style="italic">P</tspan>=NS</text>
<polyline points="440.75,576.25 440.75,565 485.75,565 485.75,665.5" fill="none" stroke="#141414" stroke-width="1.1"/>
<text x="441.25" y="561.75" font-size="7.7" text-anchor="start" font-weight="normal" fill="#000" stroke="#000" stroke-width="0.35"><tspan font-style="italic">P</tspan>&lt;.001</text>
<polyline points="440.75,607.5 440.75,596.25 473.25,596.25 473.25,658.75" fill="none" stroke="#141414" stroke-width="1.1"/>
<text x="441.25" y="593" font-size="7.7" text-anchor="start" font-weight="normal" fill="#000" stroke="#000" stroke-width="0.35"><tspan font-style="italic">P</tspan>&lt;.001</text>
<polyline points="440.75,632.5 440.75,622.5 456.25,622.5 456.25,632.5" fill="none" stroke="#141414" stroke-width="1.1"/>
<text x="441.75" y="620" font-size="7.7" text-anchor="start" font-weight="normal" fill="#000" stroke="#000" stroke-width="0.45"><tspan font-style="italic">P</tspan>=NS</text>
<rect x="406.9" y="416.6" width="96.8" height="47.2" fill="#fff" stroke="#2a2a2a" stroke-width="0.9"/>
<rect x="412" y="421.1" width="15.2" height="5.1" fill="#050505" stroke="#141414" stroke-width="0.8"/>
<text x="0" y="0" font-size="9.4" text-anchor="start" font-weight="normal" fill="#000" stroke="#000" stroke-width="0.3" transform="translate(431.5 427.27) scale(1.0 1)">PBS</text>
<rect x="412" y="431.2" width="15.2" height="5.0" fill="#a9a9a9" stroke="#141414" stroke-width="0.8"/>
<text x="0" y="0" font-size="9.4" text-anchor="start" font-weight="normal" fill="#000" stroke="#000" stroke-width="0.3" transform="translate(431.5 437.77) scale(1.0 1)">GRO&#946;<tspan font-size="5.83" dy="2.63" font-weight="bold">T</tspan></text>
<rect x="412" y="442.6" width="15.2" height="4.9" fill="url(#hatchs)" stroke="#141414" stroke-width="0.8"/>
<text x="0" y="0" font-size="9.4" text-anchor="start" font-weight="normal" fill="#000" stroke="#000" stroke-width="0.3" transform="translate(431.5 449.07) scale(1.0 1)">G-CSF</text>
<rect x="412" y="453.2" width="15.2" height="5.2" fill="#ffffff" stroke="#141414" stroke-width="0.8"/>
<text x="0" y="0" font-size="9.4" text-anchor="start" font-weight="normal" fill="#000" stroke="#000" stroke-width="0.3" transform="translate(431.5 459.57) scale(1.0 1)">G-CSF + GRO&#946;<tspan font-size="5.83" dy="2.63" font-weight="bold">T</tspan></text>
<text x="375.3" y="733.2" font-size="10.1" text-anchor="middle" font-weight="normal" fill="#000" stroke="#000" stroke-width="0.35">Plasma</text>
<text x="374.8" y="744.8" font-size="10.1" text-anchor="middle" font-weight="normal" fill="#000" stroke="#000" stroke-width="0.35">SDF-1</text>
<text x="464.8" y="733.2" font-size="10.1" text-anchor="middle" font-weight="normal" fill="#000" stroke="#000" stroke-width="0.35">Bone Marrow</text>
<text x="464.4" y="744.8" font-size="10.1" text-anchor="middle" font-weight="normal" fill="#000" stroke="#000" stroke-width="0.35">SDF-1</text>
<rect x="50.75" y="802.1" width="183.25" height="320.9" fill="none" stroke="#5a5a5a" stroke-width="0.9"/>
<line x1="50.75" y1="803.3" x2="53" y2="803.3" stroke="#5a5a5a" stroke-width="0.8"/>
<text x="44.6" y="808.5" font-size="10.8" text-anchor="end" font-weight="normal" fill="#000" stroke="#000" stroke-width="0.2">500</text>
<line x1="50.75" y1="866.3" x2="53" y2="866.3" stroke="#5a5a5a" stroke-width="0.8"/>
<text x="44.6" y="870.0999999999999" font-size="10.8" text-anchor="end" font-weight="normal" fill="#000" stroke="#000" stroke-width="0.2">400</text>
<line x1="50.75" y1="930" x2="53" y2="930" stroke="#5a5a5a" stroke-width="0.8"/>
<text x="44.6" y="933.8" font-size="10.8" text-anchor="end" font-weight="normal" fill="#000" stroke="#000" stroke-width="0.2">300</text>
<line x1="50.75" y1="994.4" x2="53" y2="994.4" stroke="#5a5a5a" stroke-width="0.8"/>
<text x="44.6" y="998.1999999999999" font-size="10.8" text-anchor="end" font-weight="normal" fill="#000" stroke="#000" stroke-width="0.2">200</text>
<line x1="50.75" y1="1058.6" x2="53" y2="1058.6" stroke="#5a5a5a" stroke-width="0.8"/>
<text x="44.6" y="1062.3999999999999" font-size="10.8" text-anchor="end" font-weight="normal" fill="#000" stroke="#000" stroke-width="0.2">100</text>
<line x1="234" y1="803.5" x2="236.2" y2="803.5" stroke="#5a5a5a" stroke-width="0.8"/>
<text x="242" y="807.3" font-size="10.8" text-anchor="start" font-weight="normal" fill="#000" stroke="#000" stroke-width="0.2">7</text>
<line x1="234" y1="849" x2="236.2" y2="849" stroke="#5a5a5a" stroke-width="0.8"/>
<text x="242" y="852.8" font-size="10.8" text-anchor="start" font-weight="normal" fill="#000" stroke="#000" stroke-width="0.2">6</text>
<line x1="234" y1="894.7" x2="236.2" y2="894.7" stroke="#5a5a5a" stroke-width="0.8"/>
<text x="242" y="898.5" font-size="10.8" text-anchor="start" font-weight="normal" fill="#000" stroke="#000" stroke-width="0.2">5</text>
<line x1="234" y1="940.2" x2="236.2" y2="940.2" stroke="#5a5a5a" stroke-width="0.8"/>
<text x="242" y="944.0" font-size="10.8" text-anchor="start" font-weight="normal" fill="#000" stroke="#000" stroke-width="0.2">4</text>
<line x1="234" y1="986" x2="236.2" y2="986" stroke="#5a5a5a" stroke-width="0.8"/>
<text x="242" y="989.8" font-size="10.8" text-anchor="start" font-weight="normal" fill="#000" stroke="#000" stroke-width="0.2">3</text>
<line x1="234" y1="1031.5" x2="236.2" y2="1031.5" stroke="#5a5a5a" stroke-width="0.8"/>
<text x="242" y="1035.3" font-size="10.8" text-anchor="start" font-weight="normal" fill="#000" stroke="#000" stroke-width="0.2">2</text>
<line x1="234" y1="1077" x2="236.2" y2="1077" stroke="#5a5a5a" stroke-width="0.8"/>
<text x="242" y="1080.8" font-size="10.8" text-anchor="start" font-weight="normal" fill="#000" stroke="#000" stroke-width="0.2">1</text>
<text x="10.6" y="1019" font-size="12.9" text-anchor="start" font-weight="normal" fill="#000" stroke="#000" stroke-width="0.4" transform="rotate(-90 10.6 1019)">Plasma SCF (pg/m)l</text>
<text x="269.4" y="1039" font-size="13.35" text-anchor="start" font-weight="normal" fill="#000" stroke="#000" stroke-width="0.4" transform="rotate(-90 269.4 1039)">Bone Marrow SCF (pg/mL)</text>
<line x1="73.12" y1="943.25" x2="73.12" y2="928.75" stroke="#3a3a3a" stroke-width="0.7"/>
<line x1="71.62" y1="928.75" x2="74.62" y2="928.75" stroke="#3a3a3a" stroke-width="0.7"/>
<rect x="67.5" y="943.25" width="11.25" height="179.75" fill="#050505" stroke="#050505" stroke-width="0.8"/>
<line x1="90.62" y1="943.75" x2="90.62" y2="923.75" stroke="#3a3a3a" stroke-width="0.7"/>
<line x1="89.12" y1="923.75" x2="92.12" y2="923.75" stroke="#3a3a3a" stroke-width="0.7"/>
<rect x="85" y="943.75" width="11.25" height="179.25" fill="#a9a9a9" stroke="#3a3a3a" stroke-width="0.8"/>
<line x1="108.38" y1="933" x2="108.38" y2="897.5" stroke="#3a3a3a" stroke-width="0.7"/>
<line x1="106.88" y1="897.5" x2="109.88" y2="897.5" stroke="#3a3a3a" stroke-width="0.7"/>
<rect x="103" y="933" width="10.75" height="190" fill="url(#hatch)" stroke="#3a3a3a" stroke-width="0.7"/>
<line x1="126.38" y1="916.75" x2="126.38" y2="876.25" stroke="#3a3a3a" stroke-width="0.7"/>
<line x1="124.88" y1="876.25" x2="127.88" y2="876.25" stroke="#3a3a3a" stroke-width="0.7"/>
<rect x="120.75" y="916.75" width="11.25" height="206.25" fill="#ffffff" stroke="#3a3a3a" stroke-width="0.8"/>
<line x1="160.62" y1="1018.75" x2="160.62" y2="995.5" stroke="#3a3a3a" stroke-width="0.7"/>
<line x1="159.12" y1="995.5" x2="162.12" y2="995.5" stroke="#3a3a3a" stroke-width="0.7"/>
<rect x="155" y="1018.75" width="11.25" height="104.25" fill="#050505" stroke="#050505" stroke-width="0.8"/>
<line x1="177.88" y1="991.25" x2="177.88" y2="935.75" stroke="#3a3a3a" stroke-width="0.7"/>
<line x1="176.38" y1="935.75" x2="179.38" y2="935.75" stroke="#3a3a3a" stroke-width="0.7"/>
<rect x="172.5" y="991.25" width="10.75" height="131.75" fill="#a9a9a9" stroke="#3a3a3a" stroke-width="0.8"/>
<line x1="195.38" y1="964.5" x2="195.38" y2="870.5" stroke="#3a3a3a" stroke-width="0.7"/>
<line x1="193.88" y1="870.5" x2="196.88" y2="870.5" stroke="#3a3a3a" stroke-width="0.7"/>
<rect x="189.5" y="964.5" width="11.75" height="158.5" fill="url(#hatch)" stroke="#3a3a3a" stroke-width="0.7"/>
<line x1="212.75" y1="1013.75" x2="212.75" y2="978.25" stroke="#3a3a3a" stroke-width="0.7"/>
<line x1="211.25" y1="978.25" x2="214.25" y2="978.25" stroke="#3a3a3a" stroke-width="0.7"/>
<rect x="206.75" y="1013.75" width="12.0" height="109.25" fill="#ffffff" stroke="#3a3a3a" stroke-width="0.8"/>
<rect x="129.7" y="804.9" width="100.4" height="50.1" fill="#fff" stroke="#555" stroke-width="0.9"/>
<rect x="136" y="810" width="15.8" height="5" fill="#050505" stroke="#141414" stroke-width="0.8"/>
<text x="0" y="0" font-size="9.6" text-anchor="start" font-weight="normal" fill="#000" stroke="#000" stroke-width="0.3" transform="translate(156.5 816.64) scale(1.0 1)">PBS</text>
<rect x="136" y="821.6" width="15.8" height="4.7" fill="#a9a9a9" stroke="#141414" stroke-width="0.8"/>
<text x="0" y="0" font-size="9.6" text-anchor="start" font-weight="normal" fill="#000" stroke="#000" stroke-width="0.3" transform="translate(156.5 827.84) scale(1.0 1)">GRO&#946;<tspan font-size="5.95" dy="2.69" font-weight="bold">T</tspan></text>
<rect x="136" y="833.2" width="15.8" height="4.7" fill="url(#hatchs)" stroke="#141414" stroke-width="0.8"/>
<text x="0" y="0" font-size="9.6" text-anchor="start" font-weight="normal" fill="#000" stroke="#000" stroke-width="0.3" transform="translate(156.5 839.54) scale(1.0 1)">G-CSF</text>
<rect x="136" y="844.5" width="15.8" height="4.6" fill="#ffffff" stroke="#141414" stroke-width="0.8"/>
<text x="0" y="0" font-size="9.6" text-anchor="start" font-weight="normal" fill="#000" stroke="#000" stroke-width="0.3" transform="translate(156.5 850.54) scale(1.0 1)">G-CSF + GRO&#946;<tspan font-size="5.95" dy="2.69" font-weight="bold">T</tspan></text>
<text x="100.5" y="1137.5" font-size="10.6" text-anchor="middle" font-weight="normal" fill="#000" stroke="#000" stroke-width="0.35">Plasma</text>
<text x="187" y="1137.5" font-size="10.6" text-anchor="middle" font-weight="normal" fill="#000" stroke="#000" stroke-width="0.35">Bone Marrow</text>
</svg>
</body></html>
